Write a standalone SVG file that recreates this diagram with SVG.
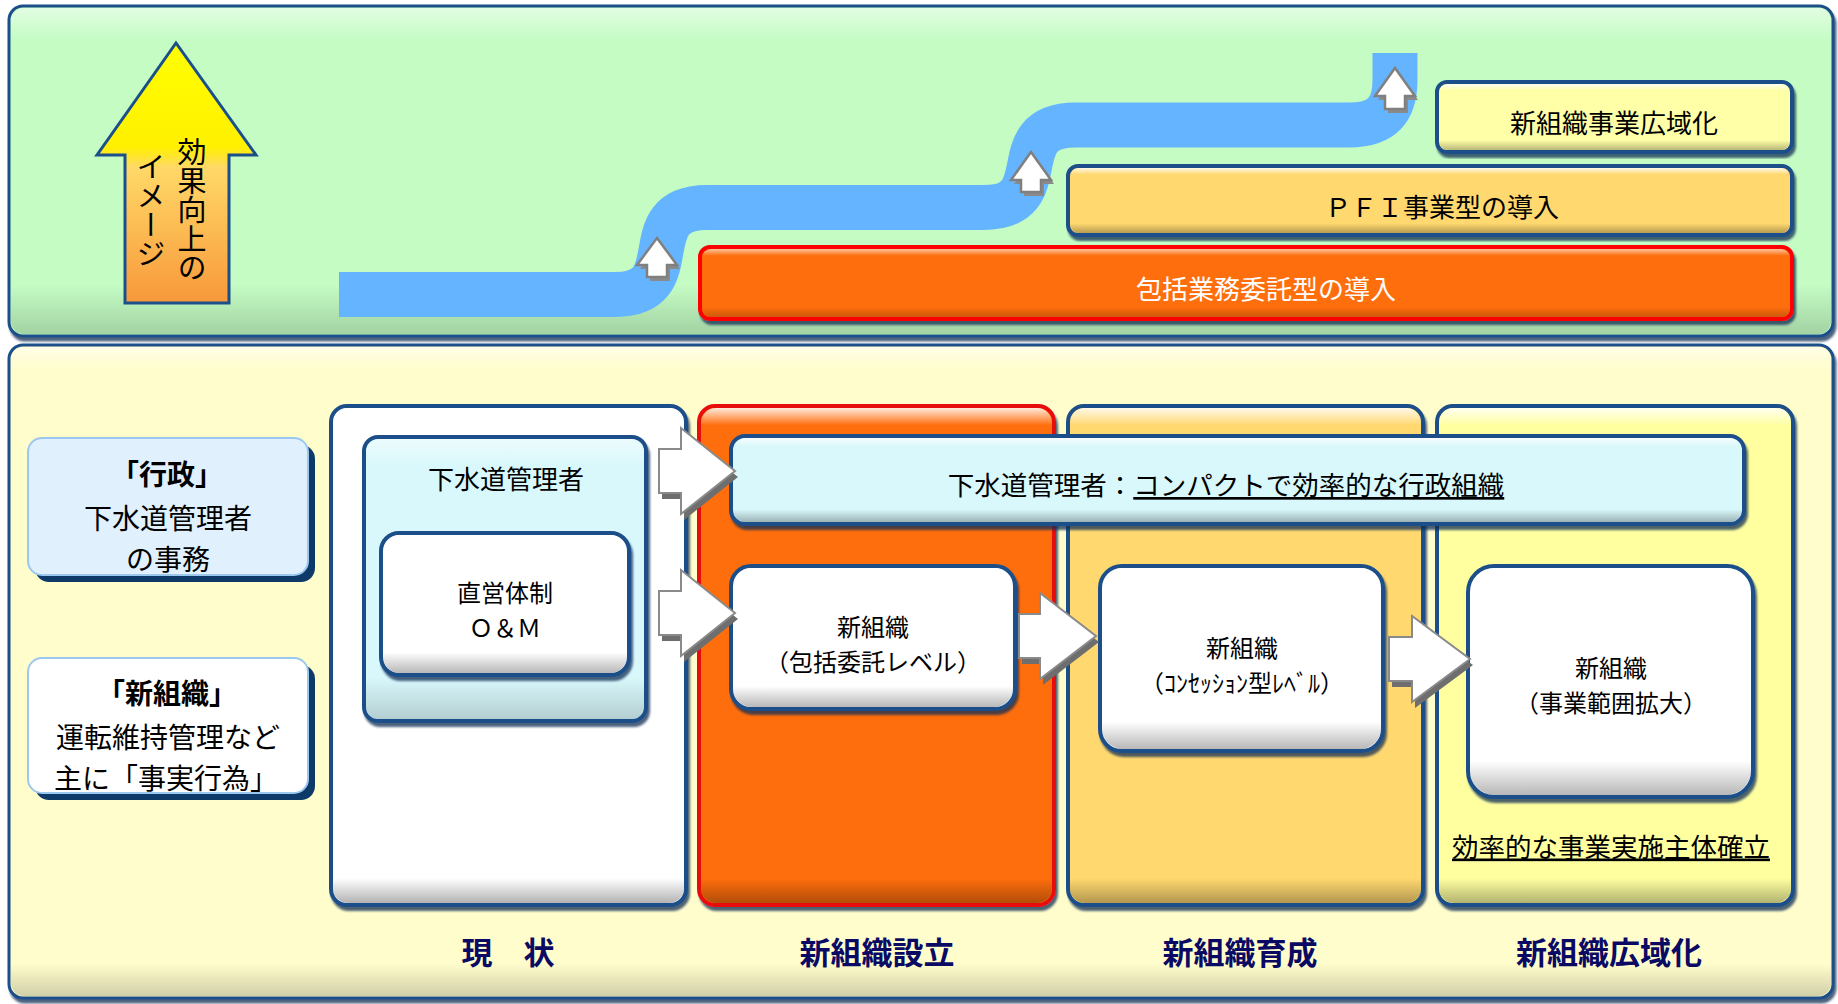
<svg xmlns="http://www.w3.org/2000/svg" width="1838" height="1004" viewBox="0 0 1838 1004">
<style>
.t{font-family:'Noto Sans CJK JP','Noto Sans CJK SC',sans-serif;dominant-baseline:central;text-anchor:middle;fill:#000}
.b{font-weight:bold}
.stage{font-weight:bold;fill:#0A0A64;font-size:31px}
.bd{stroke:#1B4F8A;stroke-width:4}
.blk{fill:#FFFFFF;stroke:#8A8A8A;stroke-width:2}
.blks{fill:#6E6E6E}
.sm{fill:#FFFFFF;stroke:#808080;stroke-width:2.5}
.sms{fill:#8A8A8A}
</style>
<defs>
<linearGradient id="gloss" x1="0" y1="0" x2="0" y2="1">
<stop offset="0" stop-color="#fff" stop-opacity="0.85"/>
<stop offset="0.1" stop-color="#fff" stop-opacity="0"/>
<stop offset="0.85" stop-color="#000" stop-opacity="0"/>
<stop offset="1" stop-color="#000" stop-opacity="0.28"/>
</linearGradient>
<linearGradient id="glossTall" x1="0" y1="0" x2="0" y2="1">
<stop offset="0" stop-color="#fff" stop-opacity="0.85"/>
<stop offset="0.035" stop-color="#fff" stop-opacity="0"/>
<stop offset="0.95" stop-color="#000" stop-opacity="0"/>
<stop offset="1" stop-color="#000" stop-opacity="0.3"/>
</linearGradient>
<linearGradient id="upg" x1="0" y1="0" x2="0" y2="1">
<stop offset="0" stop-color="#FFFF00"/>
<stop offset="0.4" stop-color="#FFF000"/>
<stop offset="0.48" stop-color="#FFD868"/>
<stop offset="1" stop-color="#F8983A"/>
</linearGradient>
<filter id="sh" x="-5%" y="-5%" width="110%" height="115%">
<feDropShadow dx="2" dy="4" stdDeviation="1.2" flood-color="#0B2E55" flood-opacity="0.75"/>
</filter>
</defs>

<g id="top-panel">
<rect x="9" y="6" width="1824" height="330" rx="14" fill="#C4FCC4" stroke="#1B4F8A" stroke-width="3" filter="url(#sh)"/>
<rect x="11" y="8" width="1820" height="326" rx="13" fill="url(#gloss)" opacity="0.6"/>
</g>

<g id="effect-arrow">
<path d="M176,43 L256,155 H229 V303 H125 V155 H97 Z" fill="url(#upg)" stroke="#1B4F8A" stroke-width="3"/>
<text class="t" x="192" y="210" font-size="29" writing-mode="vertical-rl">効果向上の</text>
<text class="t" x="151" y="210" font-size="29" writing-mode="vertical-rl">イメージ</text>
</g>

<g id="improvement-path">
<path d="M339,294.5 H615 C692,294.5 630,207.5 707,207.5 H983 C1060,207.5 999,125 1076,125 H1349 C1382,125 1395,110 1395,80 V53" fill="none" stroke="#64B4FF" stroke-width="45"/>
</g>

<g id="bar-wide-area">
<rect x="1437" y="82" width="355" height="70" rx="10" fill="#FFFFA8" class="bd" filter="url(#sh)"/>
<rect x="1439" y="84" width="351" height="66" rx="9" fill="url(#gloss)"/>
<text class="t" x="1614" y="121" font-size="26">新組織事業広域化</text>
</g>

<g id="bar-pfi">
<rect x="1068" y="166" width="724" height="69" rx="10" fill="#FFD870" class="bd" filter="url(#sh)"/>
<rect x="1070" y="168" width="720" height="65" rx="9" fill="url(#gloss)"/>
<text class="t" x="1442" y="205" font-size="26">ＰＦＩ事業型の導入</text>
</g>

<g id="bar-houkatsu">
<rect x="700" y="247" width="1092" height="72" rx="10" fill="#FF6E0A" stroke="#FF0000" stroke-width="4" filter="url(#sh)"/>
<rect x="702" y="249" width="1088" height="68" rx="9" fill="url(#gloss)" opacity="0.7"/>
<text class="t" x="1266" y="287" font-size="26" style="fill:#fff">包括業務委託型の導入</text>
</g>

<g id="bottom-panel">
<rect x="9" y="345" width="1824" height="653" rx="14" fill="#FFFDCC" stroke="#1B4F8A" stroke-width="3" filter="url(#sh)"/>
<rect x="11" y="347" width="1820" height="649" rx="13" fill="url(#glossTall)" opacity="0.6"/>
</g>

<g id="label-gyosei">
<rect x="35" y="445" width="280" height="137" rx="14" fill="#0E3A6A"/>
<rect x="28" y="438" width="280" height="137" rx="14" fill="#E0F0FC" stroke="#9CC8F0" stroke-width="2"/>
<text class="t" font-size="28"><tspan class="b" x="167" y="473">「行政」</tspan><tspan x="168" y="517">下水道管理者</tspan><tspan x="168" y="558">の事務</tspan></text>
</g>

<g id="label-shinsoshiki">
<rect x="35" y="665" width="280" height="135" rx="14" fill="#0E3A6A"/>
<rect x="28" y="658" width="280" height="135" rx="14" fill="#FFFFFF" stroke="#9CC8F0" stroke-width="2"/>
<text class="t" font-size="28"><tspan class="b" x="167" y="692">「新組織」</tspan><tspan x="168" y="736">運転維持管理など</tspan><tspan x="166" y="777">主に「事実行為」</tspan></text>
</g>

<g id="col-genjo">
<rect x="331" y="406" width="355" height="499" rx="16" fill="#FFFFFF" class="bd" filter="url(#sh)"/>
<rect x="333" y="408" width="351" height="495" rx="15" fill="url(#glossTall)"/>
<text class="t stage" x="508" y="950">現　状</text>
</g>

<g id="col-setsuritsu">
<rect x="699" y="406" width="355" height="499" rx="16" fill="#FF6E0A" stroke="#E81010" stroke-width="4" filter="url(#sh)"/>
<rect x="701" y="408" width="351" height="495" rx="15" fill="url(#glossTall)"/>
<text class="t stage" x="877" y="950">新組織設立</text>
</g>

<g id="col-ikusei">
<rect x="1068" y="406" width="355" height="499" rx="16" fill="#FFD870" class="bd" filter="url(#sh)"/>
<rect x="1070" y="408" width="351" height="495" rx="15" fill="url(#glossTall)"/>
<text class="t stage" x="1240" y="950">新組織育成</text>
</g>

<g id="col-kouiki">
<rect x="1437" y="406" width="356" height="499" rx="16" fill="#FFFFA0" class="bd" filter="url(#sh)"/>
<rect x="1439" y="408" width="352" height="495" rx="15" fill="url(#glossTall)"/>
<text class="t stage" x="1609" y="950">新組織広域化</text>
<text class="t" x="1611" y="845" font-size="26.5" text-decoration="underline">効率的な事業実施主体確立</text>
</g>

<g id="box-kanrisha">
<rect x="364" y="437" width="282" height="284" rx="14" fill="#D8F8FC" class="bd" filter="url(#sh)"/>
<rect x="366" y="439" width="278" height="280" rx="13" fill="url(#gloss)" opacity="0.6"/>
<text class="t" x="506" y="477" font-size="26">下水道管理者</text>
</g>

<g id="box-chokuei">
<rect x="381" y="533" width="248" height="142" rx="18" fill="#FFFFFF" class="bd" filter="url(#sh)"/>
<rect x="383" y="535" width="244" height="138" rx="17" fill="url(#gloss)"/>
<text class="t" font-size="24"><tspan x="505" y="591">直営体制</tspan><tspan x="505" y="626">Ｏ＆Ｍ</tspan></text>
</g>

<g id="box-kanrisha-wide">
<rect x="731" y="436" width="1013" height="88" rx="14" fill="#D8F8FC" class="bd" filter="url(#sh)"/>
<rect x="733" y="438" width="1009" height="84" rx="13" fill="url(#gloss)"/>
<text class="t" x="1226" y="483" font-size="26.5">下水道管理者：<tspan text-decoration="underline">コンパクトで効率的な行政組織</tspan></text>
</g>

<g id="box-houkatsu">
<rect x="731" y="566" width="284" height="143" rx="20" fill="#FFFFFF" class="bd" filter="url(#sh)"/>
<rect x="733" y="568" width="280" height="139" rx="19" fill="url(#gloss)"/>
<text class="t" font-size="24"><tspan x="873" y="625">新組織</tspan><tspan x="873" y="660">（包括委託レベル）</tspan></text>
</g>

<g id="box-concession">
<rect x="1100" y="566" width="283" height="185" rx="22" fill="#FFFFFF" class="bd" filter="url(#sh)"/>
<rect x="1102" y="568" width="279" height="181" rx="21" fill="url(#gloss)"/>
<text class="t" font-size="24"><tspan x="1242" y="646">新組織</tspan><tspan x="1242" y="681">（ｺﾝｾｯｼｮﾝ型ﾚﾍﾞﾙ）</tspan></text>
</g>

<g id="box-jigyo">
<rect x="1468" y="566" width="285" height="231" rx="26" fill="#FFFFFF" class="bd" filter="url(#sh)"/>
<rect x="1470" y="568" width="281" height="227" rx="25" fill="url(#gloss)"/>
<text class="t" font-size="24"><tspan x="1611" y="666">新組織</tspan><tspan x="1611" y="701">（事業範囲拡大）</tspan></text>
</g>

<g id="connectors">
<path class="sms" transform="translate(3,4)" d="M657,238 L677,265 H667 V277 H647 V265 H637 Z"/>
<path class="sm" d="M657,238 L677,265 H667 V277 H647 V265 H637 Z"/>
<path class="sms" transform="translate(3,4)" d="M1031,152 L1051,180 H1041 V192 H1021 V180 H1011 Z"/>
<path class="sm" d="M1031,152 L1051,180 H1041 V192 H1021 V180 H1011 Z"/>
<path class="sms" transform="translate(3,4)" d="M1395,68 L1415,96 H1405 V109 H1385 V96 H1375 Z"/>
<path class="sm" d="M1395,68 L1415,96 H1405 V109 H1385 V96 H1375 Z"/>

<path class="blks" transform="translate(3,6)" d="M659,449 H681 V428 L735,471 L681,514 V493 H659 Z"/>
<path class="blk" d="M659,449 H681 V428 L735,471 L681,514 V493 H659 Z"/>
<path class="blks" transform="translate(3,6)" d="M659,591 H681 V570 L735,613 L681,656 V635 H659 Z"/>
<path class="blk" d="M659,591 H681 V570 L735,613 L681,656 V635 H659 Z"/>
<path class="blks" transform="translate(3,6)" d="M1019,614 H1040 V593 L1096,636 L1040,679 V658 H1019 Z"/>
<path class="blk" d="M1019,614 H1040 V593 L1096,636 L1040,679 V658 H1019 Z"/>
<path class="blks" transform="translate(3,6)" d="M1389,637 H1412 V616 L1470,659 L1412,702 V681 H1389 Z"/>
<path class="blk" d="M1389,637 H1412 V616 L1470,659 L1412,702 V681 H1389 Z"/>
</g>
</svg>
